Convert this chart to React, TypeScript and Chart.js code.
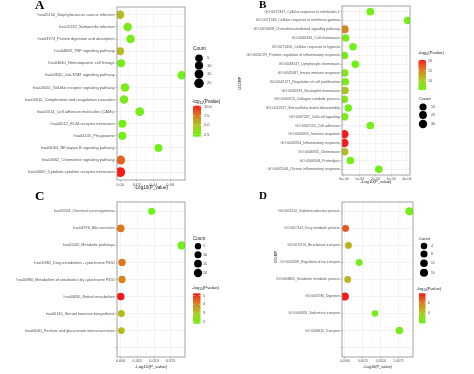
import React, { useEffect, useRef } from 'react';
import { Chart, registerables } from 'chart.js';
Chart.register(...registerables);

// ---------------- Panel A (KEGG) ----------------
const A_LABELS = [
  'hsa05150_Staphylococcus aureus infection',
  'hsa05132_Salmonella infection',
  'hsa04974_Protein digestion and absorption',
  'hsa04668_TNF signaling pathway',
  'hsa04640_Hematopoietic cell lineage',
  'hsa04630_Jak-STAT signaling pathway',
  'hsa04620_Toll-like receptor signaling pathway',
  'hsa04610_Complement and coagulation cascades',
  'hsa04514_Cell adhesion molecules (CAMs)',
  'hsa04512_ECM-receptor interaction',
  'hsa04145_Phagosome',
  'hsa04064_NF-kappa B signaling pathway',
  'hsa04062_Chemokine signaling pathway',
  'hsa04060_Cytokine-cytokine receptor interaction',
];
const A_X = [0.0, 0.009, 0.0125, 0.0, 0.0012, 0.0738, 0.0059, 0.0047, 0.0235, 0.0027, 0.0027, 0.0459, 0.0008, 0.0];
const A_LOGP = [5.3, 2.6, 2.3, 5.3, 2.4, 1.9, 2.4, 2.6, 2.4, 2.3, 2.3, 1.9, 8.3, 10.2];
const A_COUNT = [12, 12, 12, 8, 7, 12, 12, 12, 15, 9, 9, 7, 15, 24];
const A_XTICKS = [0, 0.02, 0.04, 0.06];
const A_XTICK_LABELS = ['0.00', '0.02', '0.04', '0.06'];
const A_GRAD_TICKS = [10, 7.5, 5, 2.5];
const A_GRAD_LABELS = ['10.0', '7.5', '5.0', '2.5'];
const A_COUNT_TICKS = [5, 10, 15, 20];

// ---------------- Panel B (GO:BP) ----------------
const B_LABELS = [
  'GO:0071347_Cellular response to interleukin-1',
  'GO:0071346_Cellular response to interferon-gamma',
  'GO:0070098_Chemokine-mediated signaling pathway',
  'GO:0060326_Cell chemotaxis',
  'GO:0071456_Cellular response to hypoxia',
  'GO:0050729_Positive regulation of inflammatory response',
  'GO:0048247_Lymphocyte chemotaxis',
  'GO:0045087_Innate immune response',
  'GO:0042127_Regulation of cell proliferation',
  'GO:0030593_Neutrophil chemotaxis',
  'GO:0030574_Collagen catabolic process',
  'GO:0022617_Extracellular matrix disassembly',
  'GO:0007267_Cell-cell signaling',
  'GO:0007155_Cell adhesion',
  'GO:0006955_Immune response',
  'GO:0006954_Inflammatory response',
  'GO:0006935_Chemotaxis',
  'GO:0006508_Proteolysis',
  'GO:0002544_Chronic inflammatory response',
];
const B_X = [1.68e-4, 4.05e-4, 0.05e-4, 0.11e-4, 0.58e-4, 0.03e-4, 0.73e-4, 0.05e-4, 0.09e-4, 0.07e-4, 0.03e-4, 0.28e-4, 0.05e-4, 1.68e-4, 0.03e-4, 0.03e-4, 0.05e-4, 0.41e-4, 2.22e-4];
const B_LOGP = [6.0, 5.6, 15.0, 6.5, 5.8, 6.5, 5.8, 7.0, 6.5, 11.0, 7.0, 5.8, 6.5, 5.8, 20.3, 20.3, 11.5, 5.8, 5.6];
const B_COUNT = [18, 14, 22, 15, 15, 14, 15, 16, 16, 16, 16, 14, 15, 18, 30, 30, 16, 15, 16];
const B_XTICKS = [0, 1e-4, 2e-4, 3e-4, 4e-4];
const B_XTICK_LABELS = ['0e+00', '1e-04', '2e-04', '3e-04', '4e-04'];
const B_GRAD_TICKS = [20, 15, 10];
const B_GRAD_LABELS = ['20', '15', '10'];
const B_COUNT_TICKS = [10, 20, 30];

// ---------------- Panel C (KEGG) ----------------
const C_LABELS = [
  'hsa05204_Chemical carcinogenesis',
  'hsa04976_Bile secretion',
  'hsa01100_Metabolic pathways',
  'hsa00982_Drug metabolism - cytochrome P450',
  'hsa00980_Metabolism of xenobiotics by cytochrome P450',
  'hsa00830_Retinol metabolism',
  'hsa00140_Steroid hormone biosynthesis',
  'hsa00040_Pentose and glucuronate interconversions',
];
const C_X = [0.0093, 0.0, 0.0183, 0.0004, 0.0004, 0.0, 0.0002, 0.0002];
const C_LOGP = [1.8, 4.2, 1.8, 4.2, 4.0, 5.25, 3.2, 3.2];
const C_COUNT = [10, 15, 20, 12, 12, 15, 10, 8];
const C_XTICKS = [0, 0.005, 0.01, 0.015];
const C_XTICK_LABELS = ['0.000', '0.005', '0.010', '0.015'];
const C_GRAD_TICKS = [5, 4, 3, 2];
const C_GRAD_LABELS = ['5', '4', '3', '2'];
const C_COUNT_TICKS = [5, 10, 15, 20];

// ---------------- Panel D (GO:BP) ----------------
const D_LABELS = [
  'GO:0055114_Oxidation-reduction process',
  'GO:0017144_Drug metabolic process',
  'GO:0015701_Bicarbonate transport',
  'GO:0043269_Regulation of ion transport',
  'GO:0006805_Xenobiotic metabolic process',
  'GO:0007586_Digestion',
  'GO:0006814_Sodium ion transport',
  'GO:0006810_Transport',
];
const D_X = [0.009, 0.0001, 0.0005, 0.002, 0.0004, 0.0, 0.0042, 0.0076];
const D_LOGP = [2.3, 6.8, 4.6, 2.3, 4.6, 7.8, 2.3, 2.4];
const D_COUNT = [16, 6, 6, 6, 6, 16, 4, 12];
const D_XTICKS = [0, 0.0025, 0.005, 0.0075];
const D_XTICK_LABELS = ['0.0000', '0.0025', '0.0050', '0.0075'];
const D_GRAD_TICKS = [6, 4];
const D_GRAD_LABELS = ['6', '4'];
const D_COUNT_TICKS = [4, 8, 12, 16];

// ---------------- layout (positions / styles only) ----------------
type Layout = {
  panelX: number;
  frame: { l: number; t: number; r: number; b: number };
  xMin: number; xMax: number;
  pad: number; extra: number; font: number;
  letter: { t: string; x: number; y: number; size: number };
  xTitle: { x: number; y: number };
  yTitle?: { x: number; y: number };
  count: { titleX: number; titleY: number; dotX: number; labelX: number; ys: number[] };
  grad: { titleX: number; titleY: number; barX: number; barW: number; top: number; bottom: number; labelX: number; min: number; max: number };
  r0: number; k: number;
};

const LAYOUT_A: Layout = {
  panelX: 0, frame: { l: 117, t: 7, r: 185, b: 180 }, xMin: -0.0037, xMax: 0.0777,
  pad: 0.65, extra: 0, font: 4.0,
  letter: { t: 'A', x: 35, y: 9, size: 13 }, xTitle: { x: 151, y: 187.5 },
  count: { titleX: 193, titleY: 49, dotX: 199, labelX: 207, ys: [58.3, 65.5, 74, 83.3] },
  grad: { titleX: 192, titleY: 101.5, barX: 193, barW: 8, top: 105.7, bottom: 136.7, labelX: 204, min: 1.9, max: 10.2 },
  r0: 3.5, k: 0.062,
};
const LAYOUT_B: Layout = {
  panelX: 237, frame: { l: 342, t: 6, r: 410, b: 175 }, xMin: -0.12e-4, xMax: 4.2e-4,
  pad: 0.65, extra: 0, font: 3.6,
  letter: { t: 'B', x: 259, y: 7.5, size: 11 }, xTitle: { x: 376, y: 181.5 }, yTitle: { x: 240, y: 83 },
  count: { titleX: 419, titleY: 99, dotX: 423, labelX: 431, ys: [107, 115, 124] },
  grad: { titleX: 418, titleY: 53, barX: 418.5, barW: 7.5, top: 60, bottom: 90, labelX: 428, min: 5.5, max: 20.3 },
  r0: 3.3, k: 0.03,
};
const LAYOUT_C: Layout = {
  panelX: 0, frame: { l: 117, t: 202, r: 185, b: 357 }, xMin: -0.0011, xMax: 0.0193,
  pad: 0.55, extra: 1, font: 3.8,
  letter: { t: 'C', x: 35, y: 200, size: 13 }, xTitle: { x: 151, y: 367 },
  count: { titleX: 193, titleY: 239, dotX: 198, labelX: 203, ys: [246.3, 254.7, 263.7, 273] },
  grad: { titleX: 192, titleY: 288, barX: 193, barW: 7.5, top: 293.3, bottom: 323.7, labelX: 203, min: 1.8, max: 5.25 },
  r0: 2.85, k: 0.067,
};
const LAYOUT_D: Layout = {
  panelX: 237, frame: { l: 342, t: 202, r: 413, b: 357 }, xMin: -0.0004, xMax: 0.0095,
  pad: 0.55, extra: 1, font: 3.3,
  letter: { t: 'D', x: 259, y: 199, size: 11 }, xTitle: { x: 377.5, y: 367 }, yTitle: { x: 276, y: 257 },
  count: { titleX: 419, titleY: 238.5, dotX: 424, labelX: 431, ys: [246, 254, 263.3, 272.7] },
  grad: { titleX: 417, titleY: 289.3, barX: 419, barW: 6.5, top: 293.3, bottom: 323.3, labelX: 428, min: 2.1, max: 7.8 },
  r0: 3.05, k: 0.06,
};

const W = 474;
const H = 374;
const FONT = "'Liberation Sans', Arial, sans-serif";
const SERIF = "'Liberation Serif', 'Times New Roman', serif";

const STOPS: [number, number[]][] = [
  [0, [110, 242, 24]],
  [0.3, [162, 210, 30]],
  [0.5, [194, 168, 32]],
  [0.75, [230, 104, 30]],
  [1, [248, 26, 26]],
];
function colorAt(t: number): string {
  const u = Math.max(0, Math.min(1, t));
  for (let i = 1; i < STOPS.length; i++) {
    const [t1, c1] = STOPS[i];
    const [t0, c0] = STOPS[i - 1];
    if (u <= t1) {
      const f = (u - t0) / (t1 - t0);
      const c = c0.map((v, j) => Math.round(v + (c1[j] - v) * f));
      return `rgb(${c[0]},${c[1]},${c[2]})`;
    }
  }
  return 'rgb(248,26,26)';
}

type Spec = {
  labels: string[]; x: number[]; logp: number[]; count: number[];
  xTicks: number[]; xTickLabels: string[];
  gradTicks: number[]; gradLabels: string[]; countTicks: number[];
  L: Layout;
};

const SPECS: Spec[] = [
  { labels: A_LABELS, x: A_X, logp: A_LOGP, count: A_COUNT, xTicks: A_XTICKS, xTickLabels: A_XTICK_LABELS, gradTicks: A_GRAD_TICKS, gradLabels: A_GRAD_LABELS, countTicks: A_COUNT_TICKS, L: LAYOUT_A },
  { labels: B_LABELS, x: B_X, logp: B_LOGP, count: B_COUNT, xTicks: B_XTICKS, xTickLabels: B_XTICK_LABELS, gradTicks: B_GRAD_TICKS, gradLabels: B_GRAD_LABELS, countTicks: B_COUNT_TICKS, L: LAYOUT_B },
  { labels: C_LABELS, x: C_X, logp: C_LOGP, count: C_COUNT, xTicks: C_XTICKS, xTickLabels: C_XTICK_LABELS, gradTicks: C_GRAD_TICKS, gradLabels: C_GRAD_LABELS, countTicks: C_COUNT_TICKS, L: LAYOUT_C },
  { labels: D_LABELS, x: D_X, logp: D_LOGP, count: D_COUNT, xTicks: D_XTICKS, xTickLabels: D_XTICK_LABELS, gradTicks: D_GRAD_TICKS, gradLabels: D_GRAD_LABELS, countTicks: D_COUNT_TICKS, L: LAYOUT_D },
];

function drawLogTitle(ctx: CanvasRenderingContext2D, x: number, y: number, size: number) {
  ctx.textAlign = 'left';
  ctx.textBaseline = 'middle';
  ctx.fillStyle = '#222';
  ctx.font = `${size}px ${FONT}`;
  ctx.fillText('-log', x, y);
  let cx = x + ctx.measureText('-log').width;
  ctx.font = `${size * 0.7}px ${FONT}`;
  ctx.fillText('10', cx, y + size * 0.3);
  cx += ctx.measureText('10').width;
  ctx.font = `${size}px ${FONT}`;
  ctx.fillText('(Pvalue)', cx, y);
}

function buildChart(canvas: HTMLCanvasElement, s: Spec) {
  const L = s.L;
  const n = s.labels.length;
  const XH = 10;
  const radius = (c: number) => L.r0 + L.k * c;
  const colorOf = (v: number) => colorAt((v - L.grad.min) / (L.grad.max - L.grad.min));

  const overlay = {
    id: 'overlay',
    beforeDatasetsDraw(chart: any) {
      const ctx: CanvasRenderingContext2D = chart.ctx;
      const a = chart.chartArea;
      const xs = chart.scales.x;
      ctx.save();
      ctx.strokeStyle = '#f3f3f3';
      ctx.lineWidth = 0.4;
      const step = s.xTicks[1] - s.xTicks[0];
      for (let v = s.xTicks[0] - step / 2; v <= L.xMax; v += step) {
        if (v < L.xMin) continue;
        const px = xs.getPixelForValue(v);
        ctx.beginPath();
        ctx.moveTo(px, a.top);
        ctx.lineTo(px, a.bottom);
        ctx.stroke();
      }
      ctx.restore();
    },
    afterDatasetsDraw(chart: any) {
      const ctx: CanvasRenderingContext2D = chart.ctx;
      const a = chart.chartArea;
      ctx.save();
      // panel border
      ctx.strokeStyle = '#8c8c8c';
      ctx.lineWidth = 0.8;
      ctx.strokeRect(a.left, a.top, a.right - a.left, a.bottom - a.top);

      // x title
      ctx.fillStyle = '#222';
      ctx.textAlign = 'center';
      ctx.textBaseline = 'middle';
      ctx.font = `${L.font + 0.6}px ${FONT}`;
      ctx.fillText('-Log10(P_value)', L.xTitle.x, L.xTitle.y);

      // y title
      if (L.yTitle) {
        ctx.save();
        ctx.translate(L.yTitle.x, L.yTitle.y);
        ctx.rotate(-Math.PI / 2);
        ctx.font = `${L.font + 0.6}px ${FONT}`;
        ctx.fillText('GO:BP', 0, 0);
        ctx.restore();
      }

      // letter
      ctx.textAlign = 'left';
      ctx.textBaseline = 'alphabetic';
      ctx.fillStyle = '#000';
      ctx.font = `bold ${L.letter.size}px ${SERIF}`;
      ctx.fillText(L.letter.t, L.letter.x, L.letter.y);

      // count legend
      const c = L.count;
      ctx.textBaseline = 'middle';
      ctx.fillStyle = '#222';
      ctx.font = `${L.font + 0.8}px ${FONT}`;
      ctx.fillText('Count', c.titleX, c.titleY);
      ctx.font = `${L.font}px ${FONT}`;
      s.countTicks.forEach((v, i) => {
        ctx.fillStyle = '#000';
        ctx.beginPath();
        ctx.arc(c.dotX, c.ys[i], radius(v), 0, Math.PI * 2);
        ctx.fill();
        ctx.fillStyle = '#444';
        ctx.fillText(String(v), c.labelX, c.ys[i]);
      });

      // gradient legend
      const g = L.grad;
      drawLogTitle(ctx, g.titleX, g.titleY, L.font + 0.6);
      const grd = ctx.createLinearGradient(0, g.bottom, 0, g.top);
      for (let i = 0; i <= 20; i++) grd.addColorStop(i / 20, colorAt(i / 20));
      ctx.fillStyle = grd;
      ctx.fillRect(g.barX, g.top, g.barW, g.bottom - g.top);
      ctx.font = `${L.font}px ${FONT}`;
      s.gradTicks.forEach((v, i) => {
        const y = g.bottom - ((v - g.min) / (g.max - g.min)) * (g.bottom - g.top);
        ctx.strokeStyle = '#fff';
        ctx.lineWidth = 0.5;
        ctx.beginPath();
        ctx.moveTo(g.barX, y); ctx.lineTo(g.barX + 1.5, y);
        ctx.moveTo(g.barX + g.barW - 1.5, y); ctx.lineTo(g.barX + g.barW, y);
        ctx.stroke();
        ctx.fillStyle = '#444';
        ctx.fillText(s.gradLabels[i], g.labelX, y);
      });
      ctx.restore();
    },
  };

  return new Chart(canvas, {
    type: 'scatter',
    data: {
      datasets: [
        {
          data: s.x.map((x, i) => ({ x, y: i })),
          pointRadius: (ctx: any) => radius(s.count[ctx.dataIndex]),
          pointHoverRadius: (ctx: any) => radius(s.count[ctx.dataIndex]),
          backgroundColor: s.logp.map(colorOf),
          borderWidth: 0,
        } as any,
      ],
    },
    options: {
      responsive: false,
      animation: false,
      devicePixelRatio: 1,
      events: [],
      layout: {
        padding: { left: L.panelX, top: L.frame.t, right: W - L.frame.r, bottom: H - L.frame.b - XH },
      },
      plugins: { legend: { display: false }, tooltip: { enabled: false } },
      scales: {
        x: {
          type: 'linear',
          min: L.xMin,
          max: L.xMax,
          afterFit: (sc: any) => { sc.height = XH; },
          afterBuildTicks: (sc: any) => { sc.ticks = s.xTicks.map((v) => ({ value: v })); },
          ticks: {
            autoSkip: false,
            maxRotation: 0,
            padding: 0.5,
            color: '#555',
            font: { size: L.font, family: FONT },
            callback: (_v: any, i: number) => s.xTickLabels[i],
          },
          grid: { color: '#e6e6e6', lineWidth: 0.5, tickColor: '#888', tickLength: 1.5, tickWidth: 0.5 },
          border: { display: false },
        },
        y: {
          type: 'linear',
          reverse: true,
          min: -L.pad,
          max: n - 1 + L.extra + L.pad,
          afterFit: (sc: any) => { sc.width = L.frame.l - L.panelX; },
          afterBuildTicks: (sc: any) => {
            const t = [];
            for (let i = 0; i < n + L.extra; i++) t.push({ value: i });
            sc.ticks = t;
          },
          ticks: {
            autoSkip: false,
            padding: 0.8,
            color: '#555',
            font: { size: L.font, family: FONT },
            callback: (v: any) => s.labels[v as number] ?? '',
          },
          grid: { color: '#e6e6e6', lineWidth: 0.5, tickColor: '#888', tickLength: 1.5, tickWidth: 0.5 },
          border: { display: false },
        },
      },
    } as any,
    plugins: [overlay as any],
  });
}

function Panel({ spec }: { spec: Spec }) {
  const ref = useRef<HTMLCanvasElement>(null);
  useEffect(() => {
    const chart = buildChart(ref.current!, spec);
    return () => chart.destroy();
  }, [spec]);
  return (
    <canvas
      ref={ref}
      width={W}
      height={H}
      style={{ position: 'absolute', left: 0, top: 0, width: W, height: H }}
    />
  );
}

export default function App() {
  return (
    <div style={{ position: 'fixed', left: 0, top: 0, width: W, height: H, background: '#fff', overflow: 'hidden' }}>
      {SPECS.map((s, i) => (
        <Panel key={i} spec={s} />
      ))}
    </div>
  );
}
